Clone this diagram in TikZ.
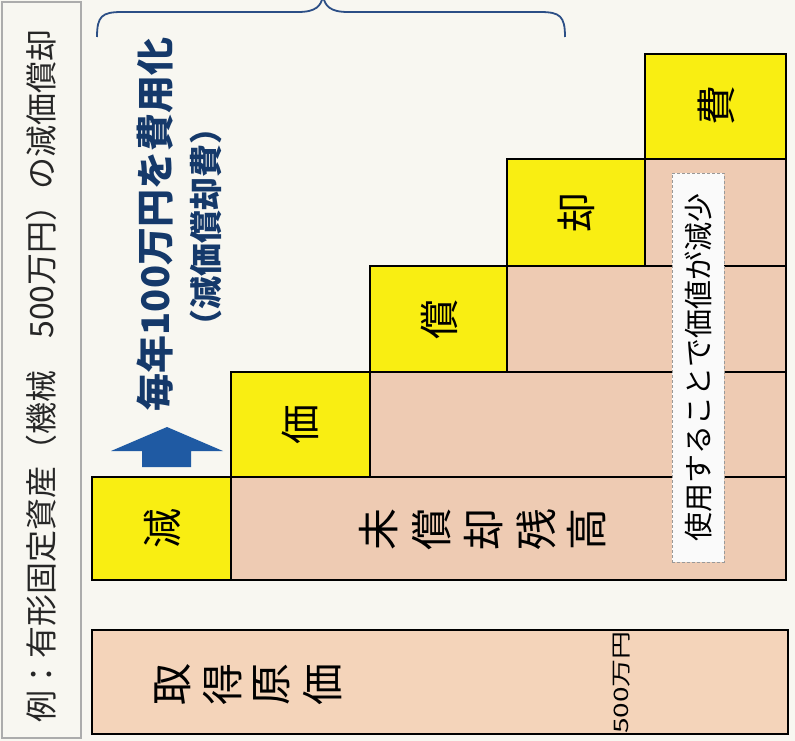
\documentclass[tikz,border=0pt]{standalone}
\usepackage{fontspec}
\newfontfamily\jp{Noto Sans CJK JP}
\usetikzlibrary{calc}
\definecolor{paper}{HTML}{F8F7F1}
\definecolor{yel}{HTML}{F9EE12}
\definecolor{tanA}{HTML}{EECBB3}
\definecolor{tanB}{HTML}{F4D4BA}
\definecolor{navy}{HTML}{15396A}
\definecolor{arrowblue}{HTML}{1F5AA3}
\definecolor{bracec}{HTML}{2C4F86}
\tikzset{
  cell/.style={draw=black, line width=1.8pt},
  yelcell/.style={cell, fill=yel},
  tancell/.style={cell, fill=tanA},
  bigchar/.style={rotate=90, font=\jp\fontsize{40}{40}\selectfont, inner sep=0pt},
  midchar/.style={rotate=90, font=\jp\fontsize{42}{42}\selectfont, inner sep=0pt},
}
\begin{document}
\begin{tikzpicture}[x=1pt,y=-1pt]
\useasboundingbox (0,0) rectangle (795,741);
\fill[paper] (0,0) rectangle (795,741);
\clip (0,0) rectangle (795,741);

% left title frame
\draw[gray!65, line width=1.2pt] (2,2) rectangle (81,738);
\node[rotate=90, font=\jp\fontsize{32}{32}\selectfont, text=black!85, inner sep=0pt] (title) at (41,376)
  {例：有形固定資産（機械　500万円）の減価償却};

% brace
\draw[bracec, line width=1.8pt] (97,37) .. controls (97,16) and (102,12) .. (122,12) -- (298,12)
  .. controls (316,12) and (321,6) .. (323,-4)
  .. controls (325,6) and (330,12) .. (348,12) -- (540,12)
  .. controls (560,12) and (565,16) .. (565,37);

% staircase: tan strips
\draw[tancell] (231,477) rectangle (786,580);
\draw[tancell] (370,372) rectangle (786,477);
\draw[tancell] (507,266) rectangle (786,372);
\draw[tancell] (645,159) rectangle (786,266);
% yellow cells
\draw[yelcell] (92,477) rectangle (231,580);
\draw[yelcell] (231,372) rectangle (370,477);
\draw[yelcell] (370,266) rectangle (507,372);
\draw[yelcell] (507,159) rectangle (645,266);
\draw[yelcell] (645,54) rectangle (786,159);

\node[bigchar] (c1) at (162,528) {減};
\node[bigchar] (c2) at (300,424) {価};
\node[bigchar] (c3) at (439,319) {償};
\node[bigchar] (c4) at (576,212) {却};
\node[bigchar] (c5) at (716,106) {費};

% remaining book value
\node[midchar] (m1) at (379,529) {未};
\node[midchar] (m2) at (432,529) {償};
\node[midchar] (m3) at (484,529) {却};
\node[midchar] (m4) at (536,529) {残};
\node[midchar] (m5) at (587,529) {高};

% dashed label
\node[draw=gray!80, dash pattern=on 3pt off 2pt, line width=1pt, fill=white!96!gray,
      minimum width=52pt, minimum height=389pt, inner sep=0pt] (lbl) at (698,367.5) {};
\node[rotate=90, font=\jp\fontsize{29}{29}\selectfont, inner sep=0pt] (lbltext) at (lbl.center)
  {使用することで価値が減少};

% blue arrow
\fill[arrowblue] (142,467) -- (142,451) -- (111,451) -- (167,427) -- (223,451) -- (191,451) -- (191,467) -- cycle;
\coordinate (arrowtip) at (167,427);

% blue text
\node[rotate=90, font=\jp\bfseries\fontsize{38}{38}\selectfont, text=navy, inner sep=0pt] (t1) at (155,224.5)
  {毎年100万円を費用化};
\node[rotate=90, font=\jp\bfseries\fontsize{33}{33}\selectfont, text=navy, inner sep=0pt] (t2) at (206,227)
  {（減価償却費）};

% acquisition cost box
\draw[cell, fill=tanB] (92,630) rectangle (788,734);
\node[midchar] (a1) at (173,684) {取};
\node[midchar] (a2) at (223,684) {得};
\node[midchar] (a3) at (272,684) {原};
\node[midchar] (a4) at (323,684) {価};
\node[rotate=90, font=\jp\fontsize{20}{20}\selectfont, inner sep=0pt, anchor=east] (amt) at (622,631)
  {\scalebox{1.4}[1]{500万円}};
\end{tikzpicture}
\end{document}
